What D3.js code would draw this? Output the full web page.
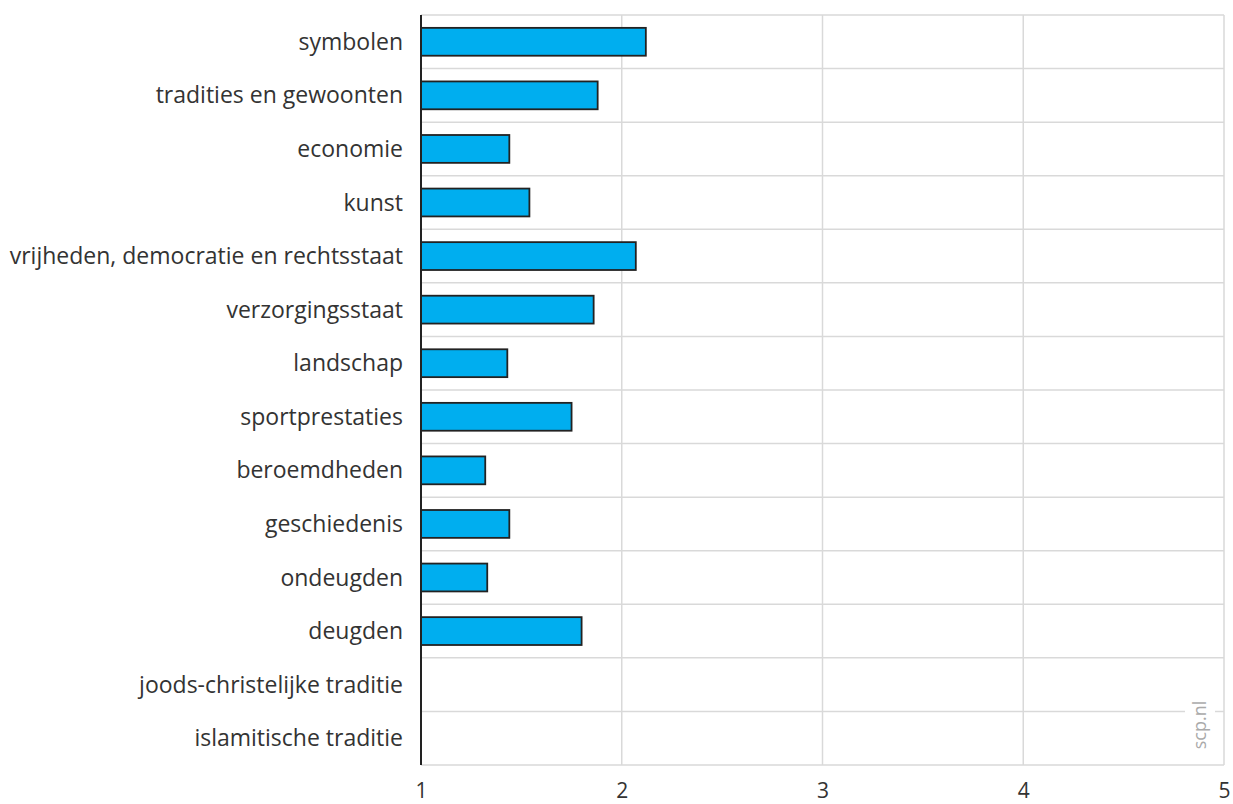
<!DOCTYPE html>
<html>
<head>
<meta charset="utf-8">
<script src="https://cdn.jsdelivr.net/npm/d3@7"></script>
<style>
  body { margin: 0; background: #fff; }
  text { font-family: "Open Sans", "Noto Sans", sans-serif; }
</style>
</head>
<body>
<div id="chart"></div>
<script>
// categories and values (scale 1-5)
const categories = [
  'symbolen', 'tradities en gewoonten', 'economie', 'kunst',
  'vrijheden, democratie en rechtsstaat', 'verzorgingsstaat', 'landschap',
  'sportprestaties', 'beroemdheden', 'geschiedenis', 'ondeugden', 'deugden',
  'joods-christelijke traditie', 'islamitische traditie'
];
const values = [2.12, 1.88, 1.44, 1.54, 2.07, 1.86, 1.43, 1.75, 1.32, 1.44, 1.33, 1.80, null, null];
const xTicks = [1, 2, 3, 4, 5];

const width = 1233;
const height = 804;
const margin = { top: 15, right: 9, bottom: 39, left: 421 };
const innerW = width - margin.left - margin.right;
const innerH = height - margin.top - margin.bottom;

const svg = d3.select('#chart')
  .append('svg')
  .attr('width', width)
  .attr('height', height)
  .append('g')
  .attr('transform', `translate(${margin.left},${margin.top})`);

const x = d3.scaleLinear()
  .domain([1, 5])
  .range([0, innerW]);

const y = d3.scaleBand()
  .domain(categories)
  .range([0, innerH])
  .padding(0);

// horizontal gridlines (row boundaries)
svg.selectAll('.hgrid')
  .data(d3.range(categories.length + 1))
  .enter().append('line')
  .attr('x1', 0)
  .attr('x2', innerW)
  .attr('y1', i => i * y.step())
  .attr('y2', i => i * y.step())
  .attr('stroke', '#d9d9d9')
  .attr('stroke-width', 1.5);

// vertical gridlines
svg.selectAll('.vgrid')
  .data(xTicks.slice(1))
  .enter().append('line')
  .attr('x1', d => x(d))
  .attr('x2', d => x(d))
  .attr('y1', 0)
  .attr('y2', innerH)
  .attr('stroke', '#d9d9d9')
  .attr('stroke-width', 1.5);

// bars
const barH = y.step() * 0.52;
svg.selectAll('.bar')
  .data(categories.map((c, i) => ({ cat: c, val: values[i] })).filter(d => d.val != null))
  .enter().append('rect')
  .attr('class', 'bar')
  .attr('x', x(1))
  .attr('y', d => y(d.cat) + (y.step() - barH) / 2)
  .attr('width', d => x(d.val) - x(1))
  .attr('height', barH)
  .attr('fill', '#00aeef')
  .attr('stroke', '#222')
  .attr('stroke-width', 1.8);

// left axis line
svg.append('line')
  .attr('x1', 0).attr('x2', 0)
  .attr('y1', 0).attr('y2', innerH)
  .attr('stroke', '#222')
  .attr('stroke-width', 2);

// category labels
svg.selectAll('.cat')
  .data(categories)
  .enter().append('text')
  .attr('x', -18)
  .attr('y', d => y(d) + y.step() / 2)
  .attr('dy', '0.35em')
  .attr('text-anchor', 'end')
  .attr('fill', '#333')
  .style('font-size', '23px')
  .text(d => d);

// x-axis
const xAxis = svg.append('g')
  .attr('transform', `translate(0,${innerH})`)
  .call(d3.axisBottom(x).tickValues(xTicks).tickFormat(d3.format('d')).tickSize(0).tickPadding(18));
xAxis.select('.domain').remove();
xAxis.selectAll('text')
  .attr('fill', '#333')
  .style('font-size', '21px')
  .style('font-family', '"Open Sans", "Noto Sans", sans-serif');

// source watermark
const wm = svg.append('g')
  .attr('transform', `translate(${innerW - 24},${innerH - 40}) rotate(-90)`);
wm.append('rect')
  .attr('x', -20).attr('y', -15)
  .attr('width', 66).attr('height', 30)
  .attr('fill', '#fff');
wm.append('text')
  .attr('x', 0)
  .attr('y', 0)
  .attr('dy', '0.35em')
  .attr('text-anchor', 'middle')
  .attr('fill', '#aaa')
  .style('font-size', '18px')
  .text('scp.nl');
</script>
</body>
</html>
